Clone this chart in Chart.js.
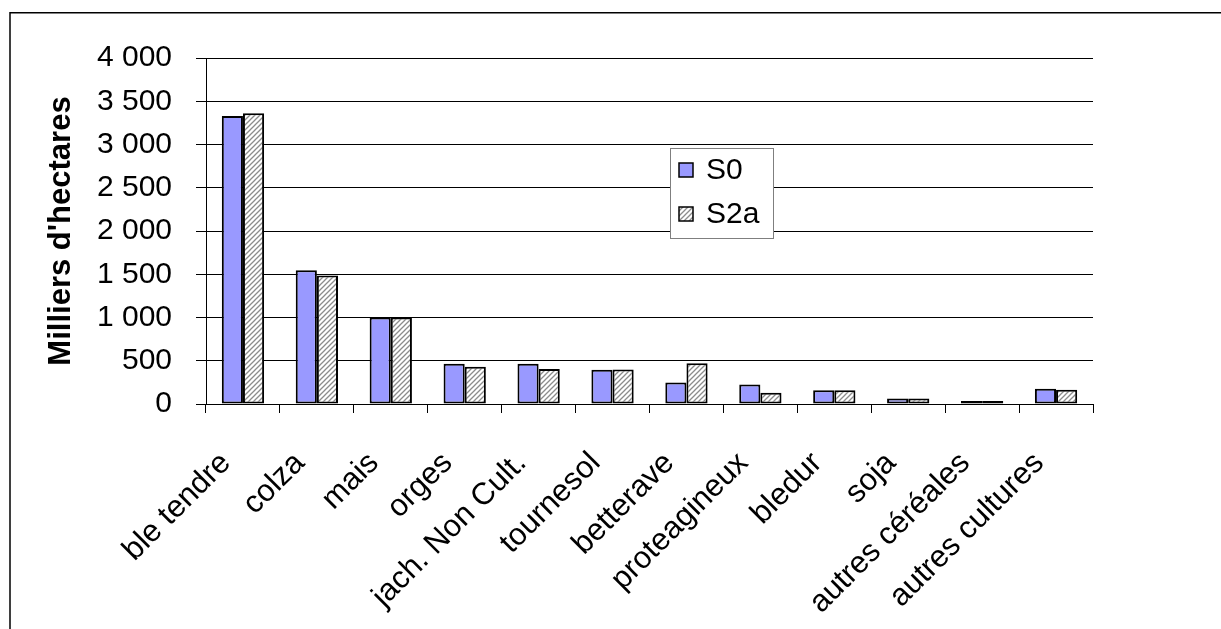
<!DOCTYPE html>
<html>
<head>
<meta charset="utf-8">
<script src="https://cdn.jsdelivr.net/npm/chart.js@4/dist/chart.umd.min.js"></script>
<style>
  html, body { margin: 0; padding: 0; background: #fff; }
  canvas { display: block; }
</style>
</head>
<body>
<canvas id="c" width="1221" height="629"></canvas>
<script>
// Surfaces par culture (milliers d'hectares), scénarios S0 et S2a
const categories = ['ble tendre', 'colza', 'mais', 'orges', 'jach. Non Cult.', 'tournesol',
  'betterave', 'proteagineux', 'bledur', 'soja', 'autres céréales', 'autres cultures'];
const seriesS0  = [3330, 1545, 1000, 465, 465, 395, 250, 225, 160, 65, 35, 175];
const seriesS2a = [3360, 1485, 1000, 430, 405, 400, 470, 130, 160, 65, 35, 165];
const seriesNames = ['S0', 'S2a'];
const yTickValues = [0, 500, 1000, 1500, 2000, 2500, 3000, 3500, 4000];
const yTitle = "Milliers d'hectares";

const FONT = 'Liberation Sans, Arial, sans-serif';

// diagonal hatching used for the S2a bars
function hatchPattern() {
  const size = 5;
  const p = document.createElement('canvas');
  p.width = size; p.height = size;
  const g = p.getContext('2d');
  g.fillStyle = '#ffffff';
  g.fillRect(0, 0, size, size);
  g.strokeStyle = '#8c8c8c';
  g.lineWidth = 1.3;
  g.beginPath();
  g.moveTo(-1, size + 1); g.lineTo(size + 1, -1);
  g.moveTo(-1, 1); g.lineTo(1, -1);
  g.moveTo(size - 1, size + 1); g.lineTo(size + 1, size - 1);
  g.stroke();
  return document.getElementById('c').getContext('2d').createPattern(p, 'repeat');
}
const hatch = hatchPattern();

function formatThousands(v) {
  return String(v).replace(/\B(?=(\d{3})+(?!\d))/g, ' ');
}

// outer frame (left and top edges)
const framePlugin = {
  id: 'frame',
  afterDraw(chart) {
    const ctx = chart.ctx;
    ctx.save();
    ctx.strokeStyle = '#000';
    ctx.lineWidth = 1.5;
    ctx.beginPath();
    ctx.moveTo(10, chart.height);
    ctx.lineTo(10, 12.8);
    ctx.lineTo(chart.width, 12.8);
    ctx.stroke();
    ctx.restore();
  }
};

// boxed legend inside the plot area
const boxLegendPlugin = {
  id: 'boxLegend',
  afterDatasetsDraw(chart) {
    const ctx = chart.ctx;
    const x = 670.5, y = 148.5, w = 103, h = 90;
    ctx.save();
    ctx.fillStyle = '#fff';
    ctx.fillRect(x, y, w, h);
    ctx.strokeStyle = '#7f7f7f';
    ctx.lineWidth = 1;
    ctx.strokeRect(x, y, w, h);
    chart.data.datasets.forEach((ds, i) => {
      const sy = 163 + i * 44;
      ctx.fillStyle = ds.backgroundColor;
      ctx.fillRect(679, sy, 14, 14);
      ctx.strokeStyle = '#000';
      ctx.lineWidth = 1.5;
      ctx.strokeRect(679, sy, 14, 14);
      ctx.fillStyle = '#000';
      ctx.font = '30px ' + FONT;
      ctx.textBaseline = 'middle';
      ctx.textAlign = 'left';
      ctx.fillText(ds.label, 706, sy + 8);
    });
    ctx.restore();
  }
};

new Chart(document.getElementById('c'), {
  type: 'bar',
  data: {
    labels: categories,
    datasets: [
      { label: seriesNames[0], data: seriesS0, backgroundColor: '#9999ff' },
      { label: seriesNames[1], data: seriesS2a, backgroundColor: hatch }
    ]
  },
  options: {
    responsive: false,
    animation: false,
    devicePixelRatio: 1,
    layout: { padding: { top: 58, right: 128, bottom: 0, left: 0 } },
    datasets: {
      bar: {
        barPercentage: 1,
        categoryPercentage: 0.572,
        borderColor: '#000',
        borderWidth: 2,
        borderSkipped: false
      }
    },
    plugins: {
      legend: { display: false },
      tooltip: { enabled: false }
    },
    scales: {
      x: {
        grid: { offset: true, drawOnChartArea: false, drawTicks: true, tickLength: 9, color: '#000', lineWidth: 1 },
        border: { color: '#000', width: 1 },
        ticks: {
          autoSkip: false, minRotation: 45, maxRotation: 45,
          color: '#000', padding: 32, labelOffset: -17,
          font: { family: FONT, size: 31 }
        },
        afterFit(s) { s.height = 225; }
      },
      y: {
        min: 0, max: 4000,
        afterBuildTicks(s) { s.ticks = yTickValues.map(v => ({ value: v })); },
        ticks: {
          color: '#000', padding: 24,
          font: { family: FONT, size: 30 },
          callback: v => formatThousands(v)
        },
        grid: { color: '#000', lineWidth: 1, tickLength: 10 },
        border: { color: '#000', width: 1 },
        title: {
          display: true, text: yTitle, color: '#000',
          font: { family: FONT, size: 31, weight: 'bold' },
          padding: { top: 43, bottom: 0 }
        },
        afterFit(s) { s.width = 206; }
      }
    }
  },
  plugins: [framePlugin, boxLegendPlugin]
});
</script>
</body>
</html>
